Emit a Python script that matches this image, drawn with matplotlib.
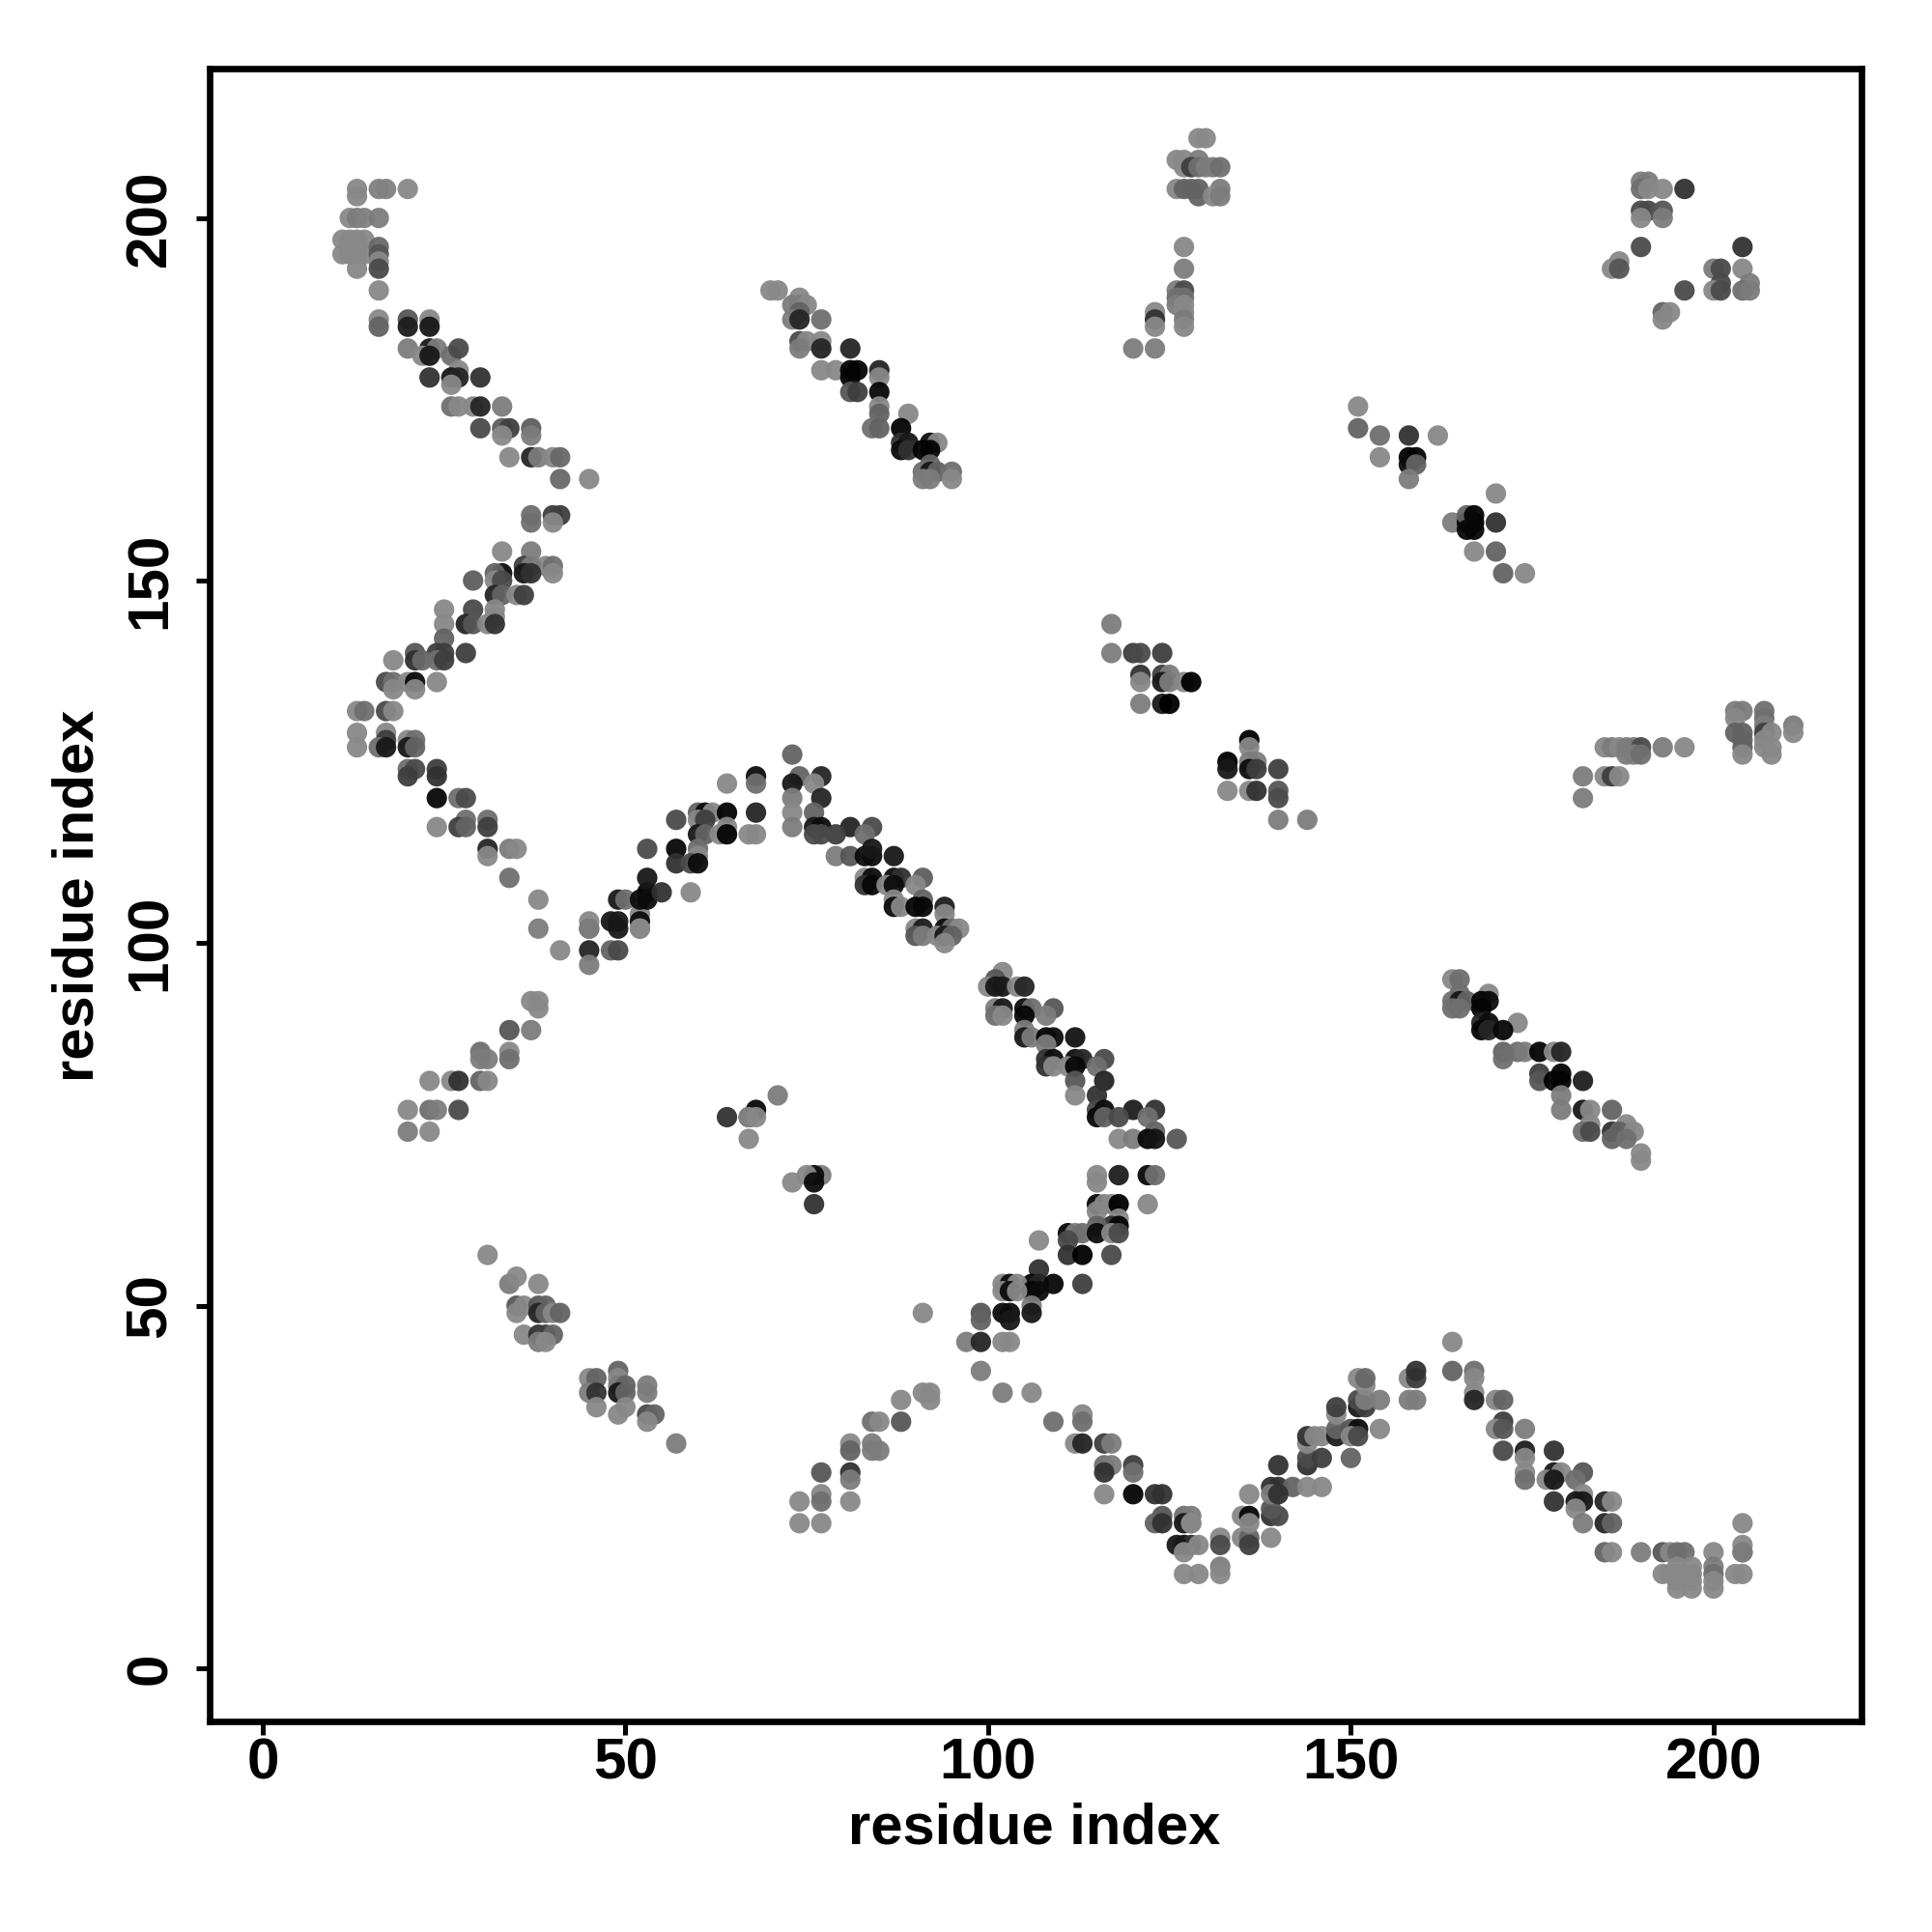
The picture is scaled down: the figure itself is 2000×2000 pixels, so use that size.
#!/usr/bin/env python3
import numpy as np
import matplotlib
matplotlib.use("Agg")
import matplotlib.pyplot as plt

plt.rcParams["font.family"] = ["Liberation Sans", "DejaVu Sans"]

# contacts, one block per region; shade is the grey level
UPPER_LEFT_X = [13,13,16,17,20, 12,13,14,16, 11,12,13,14, 11,12,13,14, 16,16,16, 13,16, 16,
                16,16,20,20,23,23, 20,23,24,22,23,26,27, 27,23,26,27,30,26,
                26,27,29,30,33, 30,33,34,37,33,37, 34,37,38,40,41, 41,45, 37,40,41,37,40]
UPPER_LEFT_Y = [204,203,204,204,204, 200,200,200,200, 197,197,197,197, 195,195,195,195, 196,195,194, 193,193, 190,
                186,185,186,185,186,185, 182,182,182,181,181,181,182, 179,178,178,178,178,177,
                174,174,174,174,174, 171,171,171,171,170,170, 167,167,167,167,167, 164,164, 159,159,159,158,158]
UPPER_LEFT_S = [.55,.55,.52,.52,.55, .55,.5,.52,.5, .55,.55,.55,.55, .55,.55,.55,.55, .42,.35,.55, .55,.3, .55,
                .55,.4,.35,.12,.55,.1, .5,.1,.5,.55,.1,.45,.3, .55,.2,.1,.15,.2,.55,
                .45,.55,.55,.15,.5, .3,.38,.25,.38,.55,.5, .55,.15,.5,.55,.42, .42,.55, .45,.25,.25,.45,.55]

LEFT_UP_X = [33,37,36,39,40,37,33,32,36,37,40,29,32,33,32,33,35,36,
             25,29,32,32,25,28,29,31,32, 25,21,24,25,28,18,21,22,24,25,
             17,18,20,21,24,18,21, 13,14,17,18]
LEFT_UP_Y = [154,154,152,152,152,152,151,151,151,151,151,150,150,150,148,148,148,148,
             146,146,146,145,144,144,144,144,144, 142,140,140,140,140,139,139,139,139,139,
             136,136,136,136,136,135,135, 132,132,132,132]
LEFT_UP_S = [.55,.5,.25,.55,.45,.5,.05,.4,.1,.2,.55,.38,.55,.3,.15,.4,.55,.25,
             .55,.3,.55,.55,.55,.15,.35,.55,.2, .4,.35,.25,.25,.25,.55,.2,.42,.45,.25,
             .3,.45,.55,.05,.55,.55,.55, .55,.45,.3,.55]

LEFT_DOWN_X = [13,17,17,20,21,13,16,17,20,21, 20,21,24,20,24, 24,27,28,
               28,31,24,27,28,31, 31,34,35,31, 34,38,38, 37,38,38,34,37, 30,34,30,31,34,
               23,26,27,30,31, 20,23,24,27, 20,23]
LEFT_DOWN_Y = [129,129,128,128,128,127,127,127,127,127, 124,124,124,123,123, 120,120,120,
               117,117,116,116,116,116, 113,113,113,112, 109,106,102, 92,92,91,88,88, 85,85,84,84,84,
               81,81,81,81,81, 77,77,77,77, 74,74]
LEFT_DOWN_S = [.55,.55,.25,.55,.45,.55,.45,.1,.1,.4, .45,.3,.25,.25,.2, .03,.45,.3,
               .45,.45,.55,.25,.4,.25, .15,.5,.55,.55, .45,.55,.5, .55,.55,.55,.35,.5, .45,.55,.5,.5,.45,
               .55,.55,.2,.4,.55, .55,.45,.5,.3, .5,.55]

ARCH_X = [45,48,49,52,45,49,52,52,45,48,49,41,45,45, 49,50,52,53,53,53,55,59,52,
          57,60,61,62,64,68,60,61,64,60,61,63,64,67,68,
          53,57,60,60,57,59,60, 64,68,68,73,74,77,73,76,73,77,73,76,
          73,76,77,81,84,76,79,83,77, 79,81,83,84,87,84,83,84,87,88,91,83,84,86,87,90,
          87,91,87,88,90,91,94,94, 90,91,94,95,96,90,91,93,94,95,94]
ARCH_Y = [103,103,103,104,102,102,103,102,99,99,99,99,97,102, 106,106,106,107,106,109,107,107,102,
          117,118,118,118,118,118,117,117,116,115,115,115,115,115,115,
          113,113,113,112,111,111,111, 122,123,122,126,123,123,122,122,120,120,118,118,
          116,116,116,116,116,115,115,115,115, 112,112,112,112,112,113,109,109,109,109,109,108,108,108,108,108,
          106,106,105,105,105,105,105,104, 102,102,102,102,102,101,101,101,101,101,100]
ARCH_S = [.55,.1,.1,.55,.5,.1,.05,.55,.15,.4,.3,.55,.5,.5, .1,.45,.05,.02,.05,.1,.2,.55,.55,
          .3,.4,.05,.55,.02,.15,.55,.25,.55,.1,.4,.55,.02,.55,.55,
          .3,.03,.45,.55,.2,.3,.05, .55,.05,.45,.4,.4,.15,.1,.55,.5,.15,.55,.4,
          .5,.1,.05,.15,.3,.3,.25,.45,.3, .5,.35,.05,.05,.1,.1,.55,.05,.05,.2,.38,.2,.03,.55,.05,.55,
          .55,.4,.05,.55,.03,.03,.12,.55, .55,.12,.05,.45,.55,.35,.5,.55,.1,.4,.55]

LOOP_X = [102,101,100,101,102,104,105, 101,102,105,106,109,101,102,105,108,
          105,105,106,108,109,112,108, 108,109,112,113,116,108,109,111,112,115,
          112,116,112,115, 115,116,120,123,115,116,118,122, 123,118,120,122,123,126]
LOOP_Y = [96,95,94,94,94,94,94, 91,91,91,91,91,90,90,90,90,
          88,87,87,87,87,87,86, 84,84,84,84,84,83,83,83,83,83,
          81,81,79,79, 77,77,77,77,76,76,76,76, 74,73,73,73,73,73]
LOOP_S = [.55,.35,.55,.1,.1,.55,.15, .5,.1,.05,.45,.35,.45,.55,.03,.5,
          .5,.1,.5,.02,.05,.08,.5, .2,.05,.05,.15,.3,.2,.55,.55,.03,.45,
          .35,.15,.55,.2, .3,.05,.12,.2,.03,.4,.3,.45, .4,.55,.5,.03,.08,.35]

LOOP_LOW_X = [115,118,122,123,115,115,116,117,118,122,115, 118,117,118,115,111,112,113,115,117,118,
              107,111,111,113,117, 107,106,107,109,113,102,103,104,106,107,102,103,104,
              106,99,102,103,106,99,103, 97,99,102,103, 91]
LOOP_LOW_Y = [68,68,68,68,67,64,64,64,64,64,63, 62,61,61,61,60,60,60,60,60,60,
              59,59,57,57,57, 55,53,53,53,53,53,53,53,52,52,52,52,52,
              50,49,49,49,49,48,48, 45,45,45,45, 49]
LOOP_LOW_S = [.55,.12,.03,.45,.55,.03,.55,.55,0,.55,.55, .55,.2,.03,.4,.03,.5,.45,.05,.55,.3,
              .55,.3,.2,0,.3, .2,.02,.15,.03,.25,.55,.05,.55,.02,.05,.55,.05,.55,
              .5,.35,.05,.05,.1,.4,.1, .5,.15,.55,.55, .55]

SMALL_X = [64,67,68,67,68,67, 71, 77,76,75,76,73,76, 31,34,35,38,35,36,38,39,35,38,39,40,41,
           36,38,39,40,38,39, 49,45,46,49,49,50,53,45,46,49,50,53,46,49,50,53,54,53,57]
SMALL_Y = [76,76,77,76,76,73, 79, 68,68,68,67,67,64, 57,53,54,53,50,50,50,50,49,49,49,49,49,
           46,46,46,46,45,45, 41,40,40,40,39,39,39,38,38,38,38,38,36,35,36,35,35,34,31]
SMALL_S = [.2,.05,.03,.55,.55,.55, .5, .5,.05,.55,.05,.55,.2, .55,.5,.55,.55,.35,.55,.35,.4,.55,.15,.4,.55,.4,
           .55,.2,.25,.4,.5,.55, .4,.55,.4,.55,.5,.4,.5,.5,.2,.1,.4,.5,.55,.55,.55,.3,.4,.55,.5]

CROSS_LOW_X = [92,91,92,88,84,85,88,81,84,81,84,85,77,81,81,77,74,77,81,74,77,
               99,102,106,113,109,113,112,113,116,117,116,117,120,116,120,116,120,123,124]
CROSS_LOW_Y = [38,38,37,37,34,34,34,31,31,30,30,30,27,27,26,24,23,23,23,20,20,
               41,38,38,35,34,34,31,31,31,31,28,28,28,27,27,24,24,24,24]
CROSS_LOW_S = [.55,.55,.55,.55,.45,.55,.35,.55,.5,.4,.5,.5,.35,.2,.5,.55,.55,.45,.55,.55,.55,
               .5,.5,.55,.55,.45,.45,.55,.15,.25,.5,.45,.5,.25,.2,.45,.55,.02,.2,.2]

WAVE_X = [127,124,128,123,124,127,128,128, 127,128,129,126,127,132,132,132,132,127,129,
          135,136,139,135,136,139,140,136,136,139, 136,139,140,142,144,146,139,140,
          140,144,144,146,150,144, 144,145,146,148,148,150,151,154,150,151,
          148,148,151,152,151,152,154,158,159, 152,151,152,158,159,159,164,167,164,
          167,167,167,170,171,171,170,171,174, 171,174,178,174,174,178,179,182,174,177,178,181,
          182,178,181,182,185,186,181,182,185,186,
          185,186,190,193,194,195,196,200,204,204,204,204,
          193,194,195,196,197,195,197,200,200,203,204,195,197,200,195,197,200]
WAVE_Y = [21,21,21,20,20,20,20,20, 17,17,17,17,16,18,17,14,13,13,13,
          18,18,18,21,21,21,21,20,17,22, 24,25,25,25,25,25,24,24,
          28,28,29,29,29,31, 32,32,32,32,33,33,33,33,32,32,
          35,36,36,36,37,37,37,37,37, 39,40,40,40,40,41,41,41,45,
          40,38,37,37,37,34,33,33,33, 30,30,30,29,27,27,27,27,26,26,26,26,
          24,23,23,23,23,23,22,20,20,20,
          16,16,16,16,16,16,16,16,16,20,17,16,
          13,13,13,13,13,14,14,14,13,13,13,12,12,12,11,11,11]
WAVE_S = [.45,.35,.5,.4,.2,.1,.55,.55, .05,.2,.55,.1,.55,.55,.3,.5,.55,.55,.55,
          .55,.4,.55,.55,.03,.2,.3,.55,.25,.35, .55,.2,.2,.4,.55,.55,.5,.2,
          .2,.2,.3,.25,.4,.55, .2,.55,.55,.12,.4,.35,.05,.55,.55,.3,
          .55,.25,.1,.25,.3,.5,.5,.5,.5, .55,.55,.42,.55,.25,.2,.4,.45,.55,
          .55,.55,.15,.55,.4,.25,.55,.35,.5, .3,.12,.2,.55,.55,.1,.55,.35,.45,.55,.1,.45,
          .55,.2,.1,.1,.15,.55,.55,.5,.15,.4,
          .4,.55,.5,.35,.55,.45,.45,.55,.55,.55,.55,.5,
          .55,.55,.55,.55,.55,.55,.55,.5,.45,.55,.55,.55,.55,.55,.55,.55,.55]

RIGHT_CHAIN_X = [164,165,165,169,164,165,166,168,169,164,165,168,168,169,173,168,169,171,
                 171,173,174,176,178,179,171,176,179,176,178,179,182, 179,179,182,183,186,
                 183,188,182,183,186,187,189,186,188,190,190]
RIGHT_CHAIN_Y = [95,95,93,93,92,92,92,92,92,91,91,91,89,89,89,88,88,88,
                 85,85,85,85,85,85,84,82,82,81,81,81,81, 79,77,77,77,77,
                 75,75,74,74,74,74,74,73,73,71,70]
RIGHT_CHAIN_S = [.55,.45,.45,.55,.45,.1,.4,.02,.05,.45,.45,.02,.15,.05,.55,.02,.15,.03,
                 .4,.45,.5,.02,.55,.15,.45,.25,.02,.35,.02,.02,.12, .5,.5,.1,.55,.4,
                 .55,.55,.45,.3,.2,.4,.55,.4,.45,.55,.55]

TOP_MID_X = [70,71,74,73,74,75,74,73,74,77,74,75,77,74,77,81,
             77,79,81,82,85,81,85,81,82,85,85,85,89,84,85,88,
             88,89,92,93,88,89,91,92,92,91,92,93,95,91,92,95]
TOP_MID_Y = [190,190,189,188,188,188,187,186,186,186,183,183,183,182,182,182,
             179,179,179,179,179,178,178,176,176,176,174,173,173,171,171,171,
             169,169,169,169,168,168,168,168,166,165,165,165,165,164,164,164]
TOP_MID_S = [.55,.55,.55,.5,.5,.55,.4,.5,.15,.45,.3,.55,.55,.5,.15,.15,
             .55,.55,.02,.02,.15,.02,.55,.35,.25,.03,.55,.4,.55,.45,.4,.02,
             .2,.1,.05,.55,.05,.2,.02,.02,.4,.45,.1,.4,.45,.5,.5,.55]

TOP_COL_X = [129,130,126,127,129,127,128,129,130,131,132,126,127,128,129,132,129,131,132,
             127,127,126,127,126,127,126,127,123,127,123,127,123,127,120,123]
TOP_COL_Y = [211,211,208,208,208,207,207,207,207,207,207,204,204,204,204,204,203,203,203,
             196,193,190,190,189,189,188,188,187,187,186,186,185,185,182,182]
TOP_COL_S = [.55,.55,.55,.55,.5,.55,.25,.45,.5,.5,.45,.55,.4,.4,.4,.5,.4,.55,.5,
             .55,.5,.5,.3,.45,.45,.5,.55,.55,.55,.2,.5,.55,.55,.5,.5]

TOP_RIGHT_X = [190,191,190,191,193,196,190,191,193,190,193,190,204,187,186,187,200,201,204,
               201,205,196,200,201,204,205,193,194,193]
TOP_RIGHT_Y = [205,205,204,204,204,204,201,201,201,200,200,196,196,194,193,193,193,193,193,
               191,191,190,190,190,190,190,187,187,186]
TOP_RIGHT_S = [.5,.5,.45,.55,.55,.2,.3,.3,.35,.55,.5,.3,.2,.55,.55,.35,.5,.3,.55,
               .3,.5,.3,.55,.3,.45,.5,.4,.55,.55]

MID_CHAIN_X = [151,151,154,158,162,154,158,159,158,159,158, 170,164,166,167,170,166,167,166,167,167,170,171,174,
               117,117,120,121,124,121,124,125,121,124,125,127,128,121,124,125]
MID_CHAIN_Y = [174,171,170,170,170,167,167,167,166,166,164, 162,158,158,158,158,159,159,157,157,154,154,151,151,
               144,140,140,140,140,137,137,137,136,136,136,136,136,133,133,133]
MID_CHAIN_S = [.55,.4,.45,.2,.55,.55,.02,.02,.05,.4,.5, .55,.5,.02,.02,.2,.4,.02,.03,.03,.55,.4,.4,.55,
               .5,.5,.25,.3,.25,.2,.25,.5,.55,.1,.5,.55,0,.5,.1,0]

CENTER_X = [136,136,133,136,137,133,136,137,140,133,136,137,140,140,140,144,
            185,186,187,188,189,190,193,196,188,189,190,182,185,186,187,182,
            203,204,207,203,207,207,211,203,204,207,208,211,204,207,204,207,208,204,208]
CENTER_Y = [128,127,125,125,125,124,124,124,124,121,121,121,121,120,117,117,
            127,127,127,127,127,127,127,127,126,126,126,123,123,123,123,120,
            132,132,132,131,131,130,130,129,129,129,129,129,128,128,127,127,127,126,126]
CENTER_S = [0,.55,0,.5,.5,.1,.05,.25,.25,.55,.55,.2,.35,.3,.5,.5,
            .55,.5,.55,.5,.5,.3,.5,.55,.5,.5,.45,.5,.55,.25,.55,.5,
            .5,.5,.45,.55,.45,.5,.5,.4,.4,.25,.55,.55,.4,.55,.4,.55,.55,.55,.55]

TICKS = [0, 50, 100, 150, 200]
AXIS_LABEL = "residue index"


def main():
    blocks = [
        (UPPER_LEFT_X, UPPER_LEFT_Y, UPPER_LEFT_S),
        (LEFT_UP_X, LEFT_UP_Y, LEFT_UP_S),
        (LEFT_DOWN_X, LEFT_DOWN_Y, LEFT_DOWN_S),
        (ARCH_X, ARCH_Y, ARCH_S),
        (LOOP_X, LOOP_Y, LOOP_S),
        (LOOP_LOW_X, LOOP_LOW_Y, LOOP_LOW_S),
        (SMALL_X, SMALL_Y, SMALL_S),
        (CROSS_LOW_X, CROSS_LOW_Y, CROSS_LOW_S),
        (WAVE_X, WAVE_Y, WAVE_S),
        (RIGHT_CHAIN_X, RIGHT_CHAIN_Y, RIGHT_CHAIN_S),
        (TOP_MID_X, TOP_MID_Y, TOP_MID_S),
        (TOP_COL_X, TOP_COL_Y, TOP_COL_S),
        (TOP_RIGHT_X, TOP_RIGHT_Y, TOP_RIGHT_S),
        (MID_CHAIN_X, MID_CHAIN_Y, MID_CHAIN_S),
        (CENTER_X, CENTER_Y, CENTER_S),
    ]

    fig = plt.figure(figsize=(10, 10), dpi=200)
    ax = fig.add_axes([217 / 2000, 1 - 1782 / 2000, 1710 / 2000, 1711 / 2000])

    for xs, ys, shade in blocks:
        ax.scatter(xs, ys, c=shade, cmap="gray", vmin=0, vmax=1.03,
                   s=58, linewidths=0, alpha=0.95)

    ax.set_xlim(-7.32, 220.4)
    ax.set_ylim(-7.33, 220.6)

    ax.set_xticks(TICKS)
    ax.set_yticks(TICKS)
    ax.tick_params(axis="both", length=5, width=1.8, labelsize=21.7)
    ax.tick_params(axis="x", pad=1)
    ax.tick_params(axis="y", pad=7)
    for lab in ax.get_xticklabels():
        lab.set_fontweight("bold")
    for lab in ax.get_yticklabels():
        lab.set_fontweight("bold")
        lab.set_rotation(90)
        lab.set_va("center")

    for spine in ax.spines.values():
        spine.set_linewidth(2.4)

    fig.text(1071 / 2000, 1 - 1893 / 2000, AXIS_LABEL, fontsize=21.5, fontweight="bold",
             ha="center", va="center")
    fig.text(81 / 2000, 1 - 927 / 2000, AXIS_LABEL, fontsize=21.5, fontweight="bold",
             ha="center", va="center", rotation=90)

    fig.savefig("out.png", dpi=200)
    plt.close(fig)


if __name__ == "__main__":
    main()
